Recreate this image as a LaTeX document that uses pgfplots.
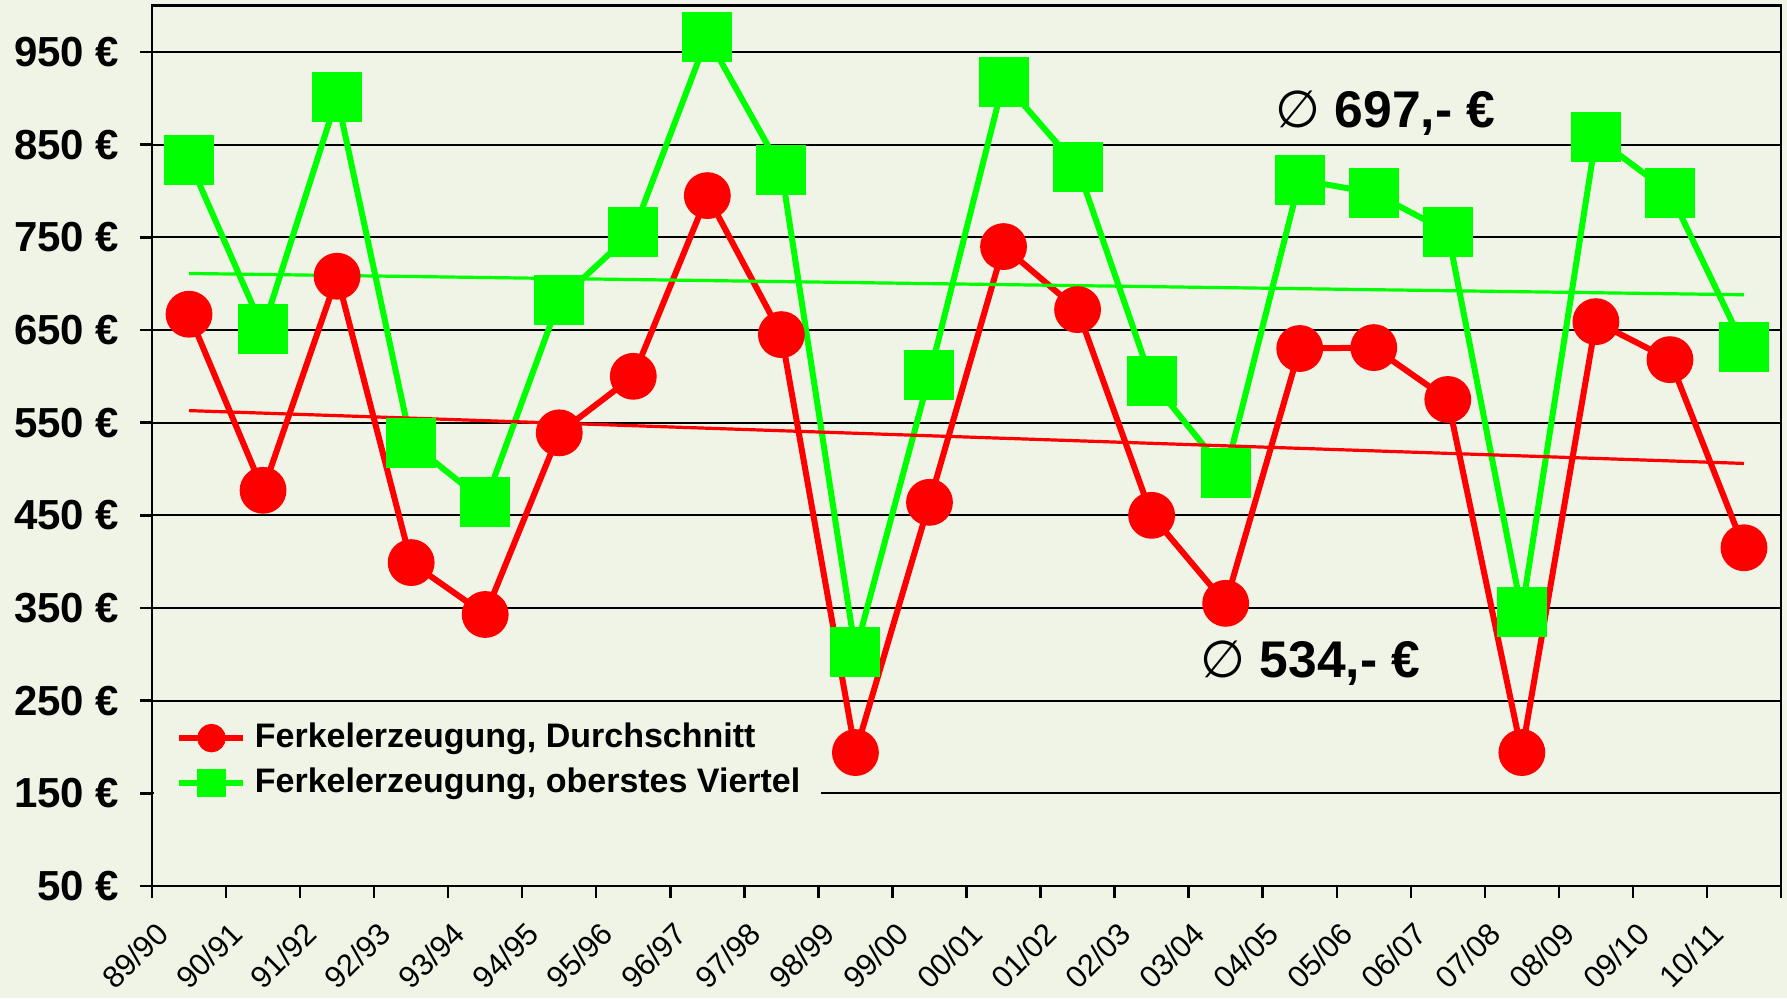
\documentclass[border=0pt]{standalone}
\usepackage{fontspec}
\setmainfont{Liberation Sans}
\newfontfamily\symfont{DejaVu Sans}
\usepackage{pgfplots}
\pgfplotsset{compat=1.18}
\definecolor{bg}{RGB}{240,244,230}
\definecolor{myred}{RGB}{255,0,0}
\definecolor{mygreen}{RGB}{0,255,0}

\pgfplotstableread{
x    avg   top
0.5  667   833
1.5  477   651
2.5  708   901
3.5  399   528
4.5  343   464
5.5  539   682
6.5  600   756
7.5  795   966
8.5  645   823
9.5  194   303
10.5 464   601
11.5 740   918
12.5 672   826
13.5 450   595
14.5 355   496
15.5 630   812
16.5 631   798
17.5 575   756
18.5 194   346
19.5 659   858
20.5 618   798
21.5 415   632
}\datatable

\begin{document}
\begin{tikzpicture}
\path[fill=bg, use as bounding box] (-38pt,-28pt) rectangle (408.75pt,221.5pt);
\begin{axis}[
  at={(0pt,0pt)}, anchor=south west,
  scale only axis, width=407.25pt, height=220.1pt,
  xmin=0, xmax=22, ymin=50, ymax=1000,
  xtick={0,...,22},
  xticklabels={89/90,90/91,91/92,92/93,93/94,94/95,95/96,96/97,97/98,98/99,99/00,00/01,01/02,02/03,03/04,04/05,05/06,06/07,07/08,08/09,09/10,10/11,{}},
  ytick={50,150,...,950},
  yticklabels={50 €,150 €,250 €,350 €,450 €,550 €,650 €,750 €,850 €,950 €},
  ymajorgrids,
  grid style={black, line width=0.45pt},
  axis line style={black, line width=0.6pt},
  tick style={black, line width=0.6pt},
  tick align=outside, major tick length=3pt,
  tick pos=left,
  yticklabel style={font=\bfseries\fontsize{10.5}{12}\selectfont, anchor=east, inner sep=0pt, xshift=-5pt},
  xticklabel style={font=\fontsize{7.7}{9}\selectfont, xshift=2.75pt, yshift=-7.5pt, rotate=45, anchor=east, inner sep=0pt},
  clip=false,
  legend style={draw=none, fill=none, at={(axis cs:0.32,227)}, anchor=north west, inner sep=0pt,
    row sep=3.6pt, font=\bfseries\fontsize{8.5}{10}\selectfont, nodes={inner sep=0pt}},
  legend cell align=left,
  legend image code/.code={
    \draw[#1, mark=none] (0pt,0pt) -- (16pt,0pt);
    \draw[#1, mark size=2.8pt] plot coordinates {(8pt,0pt)};
    \path (18.1pt,0pt);
  },
]
\fill[bg] (axis cs:0.03,51) rectangle (axis cs:9.03,240);
\addplot[myred, line width=1.5pt, mark=*, mark size=5.1pt, mark options={draw=none, fill=myred}]
  table[x=x, y=avg] {\datatable};
\addlegendentry{Ferkelerzeugung, Durchschnitt}
\addplot[mygreen, line width=1.5pt, mark=square*, mark size=5.5pt, mark options={draw=none, fill=mygreen}]
  table[x=x, y=top] {\datatable};
\addlegendentry{Ferkelerzeugung, oberstes Viertel}
\addplot[myred, line width=0.8pt, forget plot] coordinates {(0.5,563) (21.5,506)};
\addplot[mygreen, line width=0.8pt, forget plot] coordinates {(0.5,711) (21.5,688)};
\node[anchor=base west, inner sep=0pt, font=\bfseries\fontsize{12.9}{15}\selectfont] at (axis cs:15.16,869) {{\mdseries\symfont ∅}~697,- €};
\node[anchor=base west, inner sep=0pt, font=\bfseries\fontsize{12.9}{15}\selectfont] at (axis cs:14.15,275.5) {{\mdseries\symfont ∅}~534,- €};
\end{axis}
\end{tikzpicture}
\end{document}
